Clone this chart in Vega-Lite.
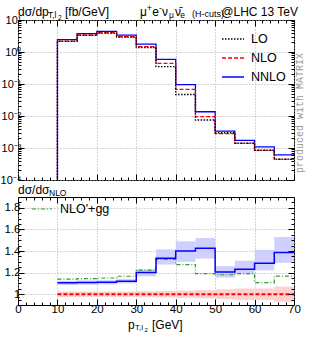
{
  "$schema": "https://vega.github.io/schema/vega-lite/v6.json",
  "padding": {"left": -1, "top": 3, "right": 0, "bottom": 0},
  "config": {
    "font": "Liberation Sans",
    "view": {"stroke": "#000000", "strokeWidth": 1},
    "axis": {"tickColor": "#000000", "tickWidth": 1, "domain": false, "labelFont": "Liberation Sans", "labelFontSize": 11, "labelColor": "#000000", "gridColor": "#aaaaaa", "gridDash": [1, 2], "gridWidth": 1, "labelFlush": false, "labelOverlap": false, "title": null}
  },
  "datasets": {
    "top": [
      {"s": "NNLO", "o": 0, "x": 10, "v": 0.000001}, {"s": "NNLO", "o": 1, "x": 10, "v": 2.43}, {"s": "NNLO", "o": 2, "x": 15, "v": 3.77}, {"s": "NNLO", "o": 3, "x": 20, "v": 4.44}, {"s": "NNLO", "o": 4, "x": 25, "v": 3.36}, {"s": "NNLO", "o": 5, "x": 30, "v": 1.76}, {"s": "NNLO", "o": 6, "x": 35, "v": 0.586}, {"s": "NNLO", "o": 7, "x": 40, "v": 0.095}, {"s": "NNLO", "o": 8, "x": 45, "v": 0.0136}, {"s": "NNLO", "o": 9, "x": 50, "v": 0.00338}, {"s": "NNLO", "o": 10, "x": 55, "v": 0.00172}, {"s": "NNLO", "o": 11, "x": 60, "v": 0.00108}, {"s": "NNLO", "o": 12, "x": 65, "v": 0.00061}, {"s": "NNLO", "o": 13, "x": 70, "v": 0.00061},
      {"s": "NLO", "o": 0, "x": 10, "v": 0.000001}, {"s": "NLO", "o": 1, "x": 10, "v": 2.2}, {"s": "NLO", "o": 2, "x": 15, "v": 3.4}, {"s": "NLO", "o": 3, "x": 20, "v": 4.0}, {"s": "NLO", "o": 4, "x": 25, "v": 3.0}, {"s": "NLO", "o": 5, "x": 30, "v": 1.47}, {"s": "NLO", "o": 6, "x": 35, "v": 0.44}, {"s": "NLO", "o": 7, "x": 40, "v": 0.068}, {"s": "NLO", "o": 8, "x": 45, "v": 0.0095}, {"s": "NLO", "o": 9, "x": 50, "v": 0.0028}, {"s": "NLO", "o": 10, "x": 55, "v": 0.0014}, {"s": "NLO", "o": 11, "x": 60, "v": 0.00084}, {"s": "NLO", "o": 12, "x": 65, "v": 0.00044}, {"s": "NLO", "o": 13, "x": 70, "v": 0.00044},
      {"s": "LO", "o": 0, "x": 10, "v": 0.000001}, {"s": "LO", "o": 1, "x": 10, "v": 2.15}, {"s": "LO", "o": 2, "x": 15, "v": 3.3}, {"s": "LO", "o": 3, "x": 20, "v": 3.9}, {"s": "LO", "o": 4, "x": 25, "v": 2.9}, {"s": "LO", "o": 5, "x": 30, "v": 1.38}, {"s": "LO", "o": 6, "x": 35, "v": 0.35}, {"s": "LO", "o": 7, "x": 40, "v": 0.047}, {"s": "LO", "o": 8, "x": 45, "v": 0.0075}, {"s": "LO", "o": 9, "x": 50, "v": 0.003}, {"s": "LO", "o": 10, "x": 55, "v": 0.00142}, {"s": "LO", "o": 11, "x": 60, "v": 0.00085}, {"s": "LO", "o": 12, "x": 65, "v": 0.00045}, {"s": "LO", "o": 13, "x": 70, "v": 0.00045}
    ],
    "ratio": [
      {"x": 10, "x2": 15, "nnloLo": 1.085, "nnloHi": 1.125, "nloLo": 0.975, "nloHi": 1.025},
      {"x": 15, "x2": 20, "nnloLo": 1.088, "nnloHi": 1.128, "nloLo": 0.975, "nloHi": 1.025},
      {"x": 20, "x2": 25, "nnloLo": 1.09, "nnloHi": 1.13, "nloLo": 0.975, "nloHi": 1.025},
      {"x": 25, "x2": 30, "nnloLo": 1.1, "nnloHi": 1.14, "nloLo": 0.975, "nloHi": 1.025},
      {"x": 30, "x2": 35, "nnloLo": 1.165, "nnloHi": 1.23, "nloLo": 0.972, "nloHi": 1.028},
      {"x": 35, "x2": 40, "nnloLo": 1.275, "nnloHi": 1.415, "nloLo": 0.97, "nloHi": 1.03},
      {"x": 40, "x2": 45, "nnloLo": 1.3, "nnloHi": 1.49, "nloLo": 0.967, "nloHi": 1.033},
      {"x": 45, "x2": 50, "nnloLo": 1.33, "nnloHi": 1.52, "nloLo": 0.962, "nloHi": 1.038},
      {"x": 50, "x2": 55, "nnloLo": 1.154, "nnloHi": 1.26, "nloLo": 0.955, "nloHi": 1.045},
      {"x": 55, "x2": 60, "nnloLo": 1.185, "nnloHi": 1.31, "nloLo": 0.948, "nloHi": 1.052},
      {"x": 60, "x2": 65, "nnloLo": 1.22, "nnloHi": 1.41, "nloLo": 0.948, "nloHi": 1.052},
      {"x": 65, "x2": 70, "nnloLo": 1.29, "nnloHi": 1.53, "nloLo": 0.93, "nloHi": 1.07}
    ],
    "ratioLine": [
      {"x": 10, "nnlo": 1.105, "gg": 1.14}, {"x": 15, "nnlo": 1.108, "gg": 1.145}, {"x": 20, "nnlo": 1.11, "gg": 1.15}, {"x": 25, "nnlo": 1.12, "gg": 1.166}, {"x": 30, "nnlo": 1.2, "gg": 1.222}, {"x": 35, "nnlo": 1.332, "gg": 1.323}, {"x": 40, "nnlo": 1.4, "gg": 1.274}, {"x": 45, "nnlo": 1.425, "gg": 1.19}, {"x": 50, "nnlo": 1.206, "gg": 1.18}, {"x": 55, "nnlo": 1.23, "gg": 1.19}, {"x": 60, "nnlo": 1.286, "gg": 1.108}, {"x": 65, "nnlo": 1.385, "gg": 1.168}, {"x": 70, "nnlo": 1.385, "gg": 1.168}
    ]
  },
  "spacing": 17,
  "bounds": "flush",
  "resolve": {"scale": {"x": "independent", "y": "independent", "color": "independent", "strokeDash": "independent"}, "legend": {"color": "independent", "strokeDash": "independent"}},
  "vconcat": [
    {
      "width": 276,
      "height": 160,
      "resolve": {"axis": {"x": "independent", "y": "independent"}},
      "layer": [
        {
          "data": {"name": "top"},
          "mark": {"type": "line", "interpolate": "step-after", "clip": true, "strokeWidth": 1.3},
          "encoding": {
            "x": {"field": "x", "type": "quantitative", "scale": {"domain": [0, 70], "nice": false, "zero": false}, "axis": {"orient": "bottom", "values": [0, 10, 20, 30, 40, 50, 60, 70], "labels": false, "tickSize": -6, "grid": true}},
            "y": {"field": "v", "type": "quantitative", "scale": {"type": "log", "domain": [0.0001, 10], "nice": false}, "axis": {"orient": "left", "values": [0.0001, 0.001, 0.01, 0.1, 1, 10], "tickSize": -6, "grid": true, "labelPadding": 3, "labelExpr": "'10' + (datum.value < 0.00015 ? '⁻⁴' : datum.value < 0.0015 ? '⁻³' : datum.value < 0.015 ? '⁻²' : datum.value < 0.15 ? '⁻¹' : datum.value < 1.5 ? '⁰' : '¹')"}},
            "color": {"field": "s", "type": "nominal", "scale": {"domain": ["LO", "NLO", "NNLO"], "range": ["#000000", "#ff0000", "#0000ff"]}, "legend": {"title": null, "orient": "none", "legendX": 203, "legendY": 7, "symbolType": "stroke", "symbolSize": 484, "symbolStrokeWidth": 1.3, "labelFontSize": 12.5, "labelOffset": 6, "rowPadding": -11, "labelColor": "#000000"}},
            "strokeDash": {"field": "s", "type": "nominal", "scale": {"domain": ["LO", "NLO", "NNLO"], "range": [[1.5, 1.5], [4, 2], [1, 0]]}, "legend": {"title": null, "orient": "none", "legendX": 203, "legendY": 7, "symbolType": "stroke", "symbolSize": 484, "symbolStrokeWidth": 1.3, "labelFontSize": 12.5, "labelOffset": 6, "rowPadding": -11, "labelColor": "#000000"}},
            "order": {"field": "o", "type": "quantitative"}
          }
        },
        {
          "data": {"name": "top"},
          "mark": {"type": "point", "opacity": 0, "clip": true},
          "encoding": {
            "x": {"field": "x", "type": "quantitative", "axis": {"orient": "top", "values": [0, 10, 20, 30, 40, 50, 60, 70], "labels": false, "tickSize": -6, "grid": false, "zindex": 1}},
            "y": {"field": "v", "type": "quantitative", "axis": {"orient": "right", "values": [0.0001, 0.001, 0.01, 0.1, 1, 10], "labels": false, "tickSize": -6, "grid": false, "zindex": 1}}
          }
        },
        {
          "data": {"name": "top"},
          "mark": {"type": "point", "opacity": 0, "clip": true},
          "encoding": {
            "x": {"field": "x", "type": "quantitative", "axis": {"orient": "bottom", "values": [2, 4, 6, 8, 12, 14, 16, 18, 22, 24, 26, 28, 32, 34, 36, 38, 42, 44, 46, 48, 52, 54, 56, 58, 62, 64, 66, 68], "labels": false, "tickSize": -3, "grid": false, "zindex": 1}},
            "y": {"field": "v", "type": "quantitative", "axis": {"orient": "left", "values": [0.0002, 0.0003, 0.0004, 0.0005, 0.0006, 0.0007, 0.0008, 0.0009, 0.002, 0.003, 0.004, 0.005, 0.006, 0.007, 0.008, 0.009, 0.02, 0.03, 0.04, 0.05, 0.06, 0.07, 0.08, 0.09, 0.2, 0.3, 0.4, 0.5, 0.6, 0.7, 0.8, 0.9, 2, 3, 4, 5, 6, 7, 8, 9], "labels": false, "tickSize": -3, "grid": false, "zindex": 1}}
          }
        },
        {
          "data": {"name": "top"},
          "mark": {"type": "point", "opacity": 0, "clip": true},
          "encoding": {
            "x": {"field": "x", "type": "quantitative", "axis": {"orient": "top", "values": [2, 4, 6, 8, 12, 14, 16, 18, 22, 24, 26, 28, 32, 34, 36, 38, 42, 44, 46, 48, 52, 54, 56, 58, 62, 64, 66, 68], "labels": false, "tickSize": -3, "grid": false, "zindex": 1}},
            "y": {"field": "v", "type": "quantitative", "axis": {"orient": "right", "values": [0.0002, 0.0003, 0.0004, 0.0005, 0.0006, 0.0007, 0.0008, 0.0009, 0.002, 0.003, 0.004, 0.005, 0.006, 0.007, 0.008, 0.009, 0.02, 0.03, 0.04, 0.05, 0.06, 0.07, 0.08, 0.09, 0.2, 0.3, 0.4, 0.5, 0.6, 0.7, 0.8, 0.9, 2, 3, 4, 5, 6, 7, 8, 9], "labels": false, "tickSize": -3, "grid": false, "zindex": 1}}
          }
        },
        {"data": {"values": [{}]}, "mark": {"type": "text", "align": "center", "baseline": "middle", "angle": 270, "fontSize": 10, "font": "Liberation Mono", "color": "#999999"}, "encoding": {"x": {"datum": 71.5, "type": "quantitative", "axis": null}, "y": {"datum": 0.0124, "type": "quantitative", "axis": null}, "text": {"value": "produced with MATRIX"}}},
        {"data": {"values": [{}]}, "mark": {"type": "text", "align": "left", "baseline": "middle", "fontSize": 12}, "encoding": {"x": {"datum": 0.001, "type": "quantitative", "axis": null}, "y": {"datum": 18.4, "type": "quantitative", "axis": null}, "text": {"value": "dσ/dp"}}},
        {"data": {"values": [{}]}, "mark": {"type": "text", "align": "left", "baseline": "middle", "fontSize": 8.5, "dx": 30, "dy": 3}, "encoding": {"x": {"datum": 0.001, "type": "quantitative", "axis": null}, "y": {"datum": 18.4, "type": "quantitative", "axis": null}, "text": {"value": "T,l"}}},
        {"data": {"values": [{}]}, "mark": {"type": "text", "align": "left", "baseline": "middle", "fontSize": 6.5, "dx": 40, "dy": 6}, "encoding": {"x": {"datum": 0.001, "type": "quantitative", "axis": null}, "y": {"datum": 18.4, "type": "quantitative", "axis": null}, "text": {"value": "2"}}},
        {"data": {"values": [{}]}, "mark": {"type": "text", "align": "left", "baseline": "middle", "fontSize": 12, "dx": 47}, "encoding": {"x": {"datum": 0.001, "type": "quantitative", "axis": null}, "y": {"datum": 18.4, "type": "quantitative", "axis": null}, "text": {"value": "[fb/GeV]"}}},
        {"data": {"values": [{}]}, "mark": {"type": "text", "align": "right", "baseline": "middle", "fontSize": 12, "dx": 4}, "encoding": {"x": {"datum": 70, "type": "quantitative", "axis": null}, "y": {"datum": 18.4, "type": "quantitative", "axis": null}, "text": {"value": "@LHC 13 TeV"}}},
        {"data": {"values": [{}]}, "mark": {"type": "text", "align": "right", "baseline": "middle", "fontSize": 9, "dx": -70, "dy": 2}, "encoding": {"x": {"datum": 70, "type": "quantitative", "axis": null}, "y": {"datum": 18.4, "type": "quantitative", "axis": null}, "text": {"value": "(H-cuts)"}}},
        {"data": {"values": [{}]}, "mark": {"type": "text", "align": "right", "baseline": "middle", "fontSize": 8.5, "dx": -109, "dy": 3}, "encoding": {"x": {"datum": 70, "type": "quantitative", "axis": null}, "y": {"datum": 18.4, "type": "quantitative", "axis": null}, "text": {"value": "e"}}},
        {"data": {"values": [{}]}, "mark": {"type": "text", "align": "right", "baseline": "middle", "fontSize": 12, "dx": -113}, "encoding": {"x": {"datum": 70, "type": "quantitative", "axis": null}, "y": {"datum": 18.4, "type": "quantitative", "axis": null}, "text": {"value": "ν̄"}}},
        {"data": {"values": [{}]}, "mark": {"type": "text", "align": "right", "baseline": "middle", "fontSize": 8.5, "dx": -120, "dy": 3}, "encoding": {"x": {"datum": 70, "type": "quantitative", "axis": null}, "y": {"datum": 18.4, "type": "quantitative", "axis": null}, "text": {"value": "μ"}}},
        {"data": {"values": [{}]}, "mark": {"type": "text", "align": "right", "baseline": "middle", "fontSize": 12, "dx": -126}, "encoding": {"x": {"datum": 70, "type": "quantitative", "axis": null}, "y": {"datum": 18.4, "type": "quantitative", "axis": null}, "text": {"value": "ν"}}},
        {"data": {"values": [{}]}, "mark": {"type": "text", "align": "right", "baseline": "middle", "fontSize": 9, "dx": -132, "dy": -4}, "encoding": {"x": {"datum": 70, "type": "quantitative", "axis": null}, "y": {"datum": 18.4, "type": "quantitative", "axis": null}, "text": {"value": "-"}}},
        {"data": {"values": [{}]}, "mark": {"type": "text", "align": "right", "baseline": "middle", "fontSize": 12, "dx": -135}, "encoding": {"x": {"datum": 70, "type": "quantitative", "axis": null}, "y": {"datum": 18.4, "type": "quantitative", "axis": null}, "text": {"value": "e"}}},
        {"data": {"values": [{}]}, "mark": {"type": "text", "align": "right", "baseline": "middle", "fontSize": 9, "dx": -142, "dy": -4}, "encoding": {"x": {"datum": 70, "type": "quantitative", "axis": null}, "y": {"datum": 18.4, "type": "quantitative", "axis": null}, "text": {"value": "+"}}},
        {"data": {"values": [{}]}, "mark": {"type": "text", "align": "right", "baseline": "middle", "fontSize": 12, "dx": -147}, "encoding": {"x": {"datum": 70, "type": "quantitative", "axis": null}, "y": {"datum": 18.4, "type": "quantitative", "axis": null}, "text": {"value": "μ"}}}
      ]
    },
    {
      "width": 276,
      "height": 108,
      "resolve": {"axis": {"x": "independent", "y": "independent"}},
      "layer": [
        {
          "data": {"name": "ratio"},
          "mark": {"type": "rect", "color": "#ffd0d0"},
          "encoding": {
            "x": {"field": "x", "type": "quantitative", "scale": {"domain": [0, 70], "nice": false, "zero": false}, "axis": {"orient": "bottom", "values": [0, 10, 20, 30, 40, 50, 60, 70], "tickSize": -6, "grid": true, "labelPadding": 4, "labelFontSize": 11.5}},
            "x2": {"field": "x2"},
            "y": {"field": "nloLo", "type": "quantitative", "scale": {"domain": [0.9, 1.9], "nice": false, "zero": false}, "axis": {"orient": "left", "values": [1, 1.2, 1.4, 1.6, 1.8], "format": ".1~f", "tickSize": -6, "grid": true, "labelPadding": 4, "labelFontSize": 11.5}},
            "y2": {"field": "nloHi"}
          }
        },
        {
          "data": {"name": "ratio"},
          "mark": {"type": "rect", "color": "#c8c8ff", "opacity": 0.85},
          "encoding": {
            "x": {"field": "x", "type": "quantitative", "axis": {"orient": "top", "values": [0, 10, 20, 30, 40, 50, 60, 70], "labels": false, "tickSize": -6, "grid": false, "zindex": 1}},
            "x2": {"field": "x2"},
            "y": {"field": "nnloLo", "type": "quantitative", "axis": {"orient": "right", "values": [1, 1.2, 1.4, 1.6, 1.8], "labels": false, "tickSize": -6, "grid": false, "zindex": 1}},
            "y2": {"field": "nnloHi"}
          }
        },
        {
          "data": {"values": [{}]},
          "mark": {"type": "rule", "color": "#ff0000", "strokeDash": [4, 2], "strokeWidth": 2},
          "encoding": {"x": {"datum": 10, "type": "quantitative", "axis": null}, "x2": {"datum": 70}, "y": {"datum": 1, "type": "quantitative", "axis": null}}
        },
        {
          "data": {"name": "ratioLine"},
          "mark": {"type": "line", "interpolate": "step-after", "strokeWidth": 1.2, "strokeDash": [4, 2, 1, 2]},
          "encoding": {
            "x": {"field": "x", "type": "quantitative", "axis": {"orient": "bottom", "values": [2, 4, 6, 8, 12, 14, 16, 18, 22, 24, 26, 28, 32, 34, 36, 38, 42, 44, 46, 48, 52, 54, 56, 58, 62, 64, 66, 68], "labels": false, "tickSize": -3, "grid": false, "zindex": 1}},
            "y": {"field": "gg", "type": "quantitative", "axis": {"orient": "left", "values": [0.95, 1.05, 1.1, 1.15, 1.25, 1.3, 1.35, 1.45, 1.5, 1.55, 1.65, 1.7, 1.75, 1.85], "labels": false, "tickSize": -3, "grid": false, "zindex": 1}},
            "color": {"datum": "NLO'+gg", "type": "nominal", "scale": {"range": ["#339933"]}, "legend": {"title": null, "orient": "none", "legendX": 13, "legendY": 1, "symbolType": "stroke", "symbolSize": 400, "symbolStrokeWidth": 1.2, "symbolDash": [4, 2, 1, 2], "labelFontSize": 12.5, "labelOffset": 7, "labelColor": "#000000"}}
          }
        },
        {
          "data": {"name": "ratioLine"},
          "mark": {"type": "line", "interpolate": "step-after", "strokeWidth": 1.5, "color": "#0000ff"},
          "encoding": {
            "x": {"field": "x", "type": "quantitative", "axis": {"orient": "top", "values": [2, 4, 6, 8, 12, 14, 16, 18, 22, 24, 26, 28, 32, 34, 36, 38, 42, 44, 46, 48, 52, 54, 56, 58, 62, 64, 66, 68], "labels": false, "tickSize": -3, "grid": false, "zindex": 1}},
            "y": {"field": "nnlo", "type": "quantitative", "axis": {"orient": "right", "values": [0.95, 1.05, 1.1, 1.15, 1.25, 1.3, 1.35, 1.45, 1.5, 1.55, 1.65, 1.7, 1.75, 1.85], "labels": false, "tickSize": -3, "grid": false, "zindex": 1}}
          }
        },
        {"data": {"values": [{}]}, "mark": {"type": "text", "align": "left", "baseline": "middle", "fontSize": 12}, "encoding": {"x": {"datum": 0.001, "type": "quantitative", "axis": null}, "y": {"datum": 1.965, "type": "quantitative", "axis": null}, "text": {"value": "dσ/dσ"}}},
        {"data": {"values": [{}]}, "mark": {"type": "text", "align": "left", "baseline": "middle", "fontSize": 8.5, "dx": 31, "dy": 3}, "encoding": {"x": {"datum": 0.001, "type": "quantitative", "axis": null}, "y": {"datum": 1.965, "type": "quantitative", "axis": null}, "text": {"value": "NLO"}}},
        {"data": {"values": [{}]}, "mark": {"type": "text", "align": "left", "baseline": "middle", "fontSize": 12, "dx": -28}, "encoding": {"x": {"datum": 35, "type": "quantitative", "axis": null}, "y": {"datum": 0.715, "type": "quantitative", "axis": null}, "text": {"value": "p"}}},
        {"data": {"values": [{}]}, "mark": {"type": "text", "align": "left", "baseline": "middle", "fontSize": 8, "dx": -21, "dy": 3}, "encoding": {"x": {"datum": 35, "type": "quantitative", "axis": null}, "y": {"datum": 0.715, "type": "quantitative", "axis": null}, "text": {"value": "T,l"}}},
        {"data": {"values": [{}]}, "mark": {"type": "text", "align": "left", "baseline": "middle", "fontSize": 6, "dx": -11.5, "dy": 5.5}, "encoding": {"x": {"datum": 35, "type": "quantitative", "axis": null}, "y": {"datum": 0.715, "type": "quantitative", "axis": null}, "text": {"value": "2"}}},
        {"data": {"values": [{}]}, "mark": {"type": "text", "align": "left", "baseline": "middle", "fontSize": 12, "dx": -4}, "encoding": {"x": {"datum": 35, "type": "quantitative", "axis": null}, "y": {"datum": 0.715, "type": "quantitative", "axis": null}, "text": {"value": "[GeV]"}}}
      ]
    }
  ]
}
